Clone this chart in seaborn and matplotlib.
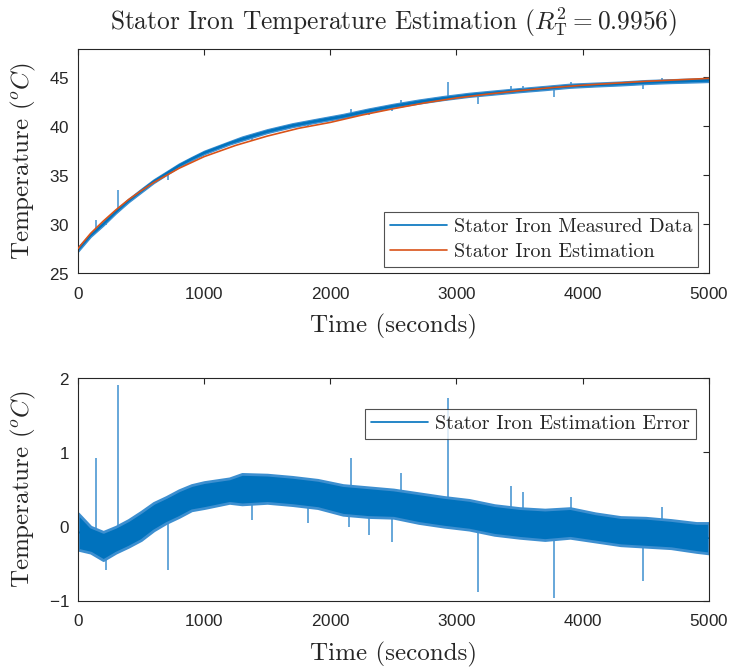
import numpy as np
import pandas as pd
import matplotlib
matplotlib.use("Agg")
import matplotlib.pyplot as plt
import seaborn as sns

# Estimated stator iron temperature (deg C)
est_time = [0, 100, 200, 300, 400, 500, 600, 800, 1000, 1250, 1500, 1750,
            2000, 2250, 2500, 2750, 3000, 3250, 3500, 3750, 4000, 4500, 5000]
est_temp = [27.5, 29.05, 30.3, 31.45, 32.5, 33.4, 34.25, 35.7, 36.9, 38.05,
            39.0, 39.8, 40.4, 41.15, 41.8, 42.4, 42.9, 43.3, 43.65, 43.95,
            44.2, 44.6, 44.9]

# Estimation error band (upper / lower edge of the noisy trace)
err_time = [0, 100, 200, 300, 400, 500, 600, 700, 800, 900, 1000, 1200, 1300,
            1500, 1700, 1900, 2100, 2300, 2500, 2700, 2900, 3100, 3300, 3500,
            3700, 3900, 4100, 4300, 4500, 4700, 4900, 5000]
err_hi = [0.18, 0.0, -0.07, 0.0, 0.09, 0.2, 0.32, 0.4, 0.49, 0.56, 0.6, 0.65,
          0.71, 0.7, 0.67, 0.63, 0.56, 0.53, 0.5, 0.45, 0.4, 0.36, 0.29, 0.25,
          0.23, 0.25, 0.18, 0.13, 0.12, 0.09, 0.05, 0.05]
err_lo = [-0.31, -0.35, -0.45, -0.35, -0.27, -0.18, -0.05, 0.05, 0.13, 0.22,
          0.25, 0.32, 0.3, 0.32, 0.29, 0.25, 0.16, 0.13, 0.12, 0.05, 0.0, -0.04,
          -0.11, -0.15, -0.18, -0.15, -0.2, -0.25, -0.27, -0.29, -0.34, -0.36]

# Isolated spikes in the error trace
spike_time = [140, 220, 314, 710, 1380, 1820, 2150, 2160, 2305, 2485, 2557,
              2930, 3170, 3430, 3525, 3770, 3910, 4480, 4630]
spike_err = [0.92, -0.58, 1.9, -0.58, 0.09, 0.05, 0.0, 0.92, -0.11, -0.2, 0.72,
             1.73, -0.88, 0.55, 0.47, -0.96, 0.4, -0.73, 0.26]

blue = "#0072BD"
fringe = "#3d8fd0"
orange = "#D95319"
cm_font = "cmr10"

sns.set_style("white")
plt.rcParams["font.family"] = ["Liberation Sans", "DejaVu Sans"]
plt.rcParams["mathtext.fontset"] = "cm"
plt.rcParams["axes.formatter.use_mathtext"] = True
plt.rcParams["axes.edgecolor"] = "#262626"
plt.rcParams["axes.linewidth"] = 0.8

# build frames
est = pd.DataFrame({"t": est_time, "T": est_temp})
err = pd.DataFrame({"t": err_time, "hi": err_hi, "lo": err_lo})
err["mid"] = (err["hi"] + err["lo"]) / 2
err["est"] = np.interp(err["t"], est["t"], est["T"])
spk = pd.DataFrame({"t": spike_time, "e": spike_err})
spk["base"] = np.interp(spk["t"], err["t"], err["mid"])
spk["est"] = np.interp(spk["t"], est["t"], est["T"])

fig = plt.figure(figsize=(7.37, 6.7), dpi=100)
ax1 = fig.add_axes([0.1058, 0.5925, 0.856, 0.3343])
ax2 = fig.add_axes([0.1058, 0.103, 0.856, 0.3328])

# Top panel: measured vs estimated
ax1.vlines(spk["t"], spk["est"] + spk["base"], spk["est"] + spk["e"],
           color=fringe, lw=1.1, zorder=1)
ax1.fill_between(err["t"], err["est"] + err["lo"], err["est"] + err["hi"],
                 facecolor=blue, edgecolor=fringe, lw=1.0, zorder=2)
sns.lineplot(x=err["t"], y=err["est"] + err["mid"], ax=ax1, color=blue, lw=1.2,
             label="Stator Iron Measured Data", zorder=2)
sns.lineplot(data=est, x="t", y="T", ax=ax1, color=orange, lw=1.2,
             label="Stator Iron Estimation", zorder=3)

# Bottom panel: error
ax2.vlines(spk["t"], spk["base"], spk["e"], color=fringe, lw=1.1, zorder=1)
ax2.fill_between(err["t"], err["lo"], err["hi"], facecolor=blue,
                 edgecolor=fringe, lw=2.0, zorder=2)
sns.lineplot(x=err["t"], y=err["mid"], ax=ax2, color=blue, lw=1.2,
             label="Stator Iron Estimation Error", zorder=2)

ax1.set_ylim(25, 47.9)
ax1.set_yticks([25, 30, 35, 40, 45])
ax2.set_ylim(-1, 2)
ax2.set_yticks([-1, 0, 1, 2])

for ax in (ax1, ax2):
    ax.set_xlim(0, 5000)
    ax.set_xticks([0, 1000, 2000, 3000, 4000, 5000])
    ax.tick_params(direction="in", top=True, right=True, length=4, width=0.8,
                   labelsize=12.3, colors="#262626", pad=9)
    ax.tick_params(axis="y", pad=6)
    ax.set_xlabel("Time (seconds)", fontfamily=cm_font, fontsize=18,
                  labelpad=9)
    ax.set_ylabel("Temperature ($^oC$)", fontfamily=cm_font, fontsize=18,
                  labelpad=8)

ax1.set_title(r"Stator Iron Temperature Estimation ($R^2_{\mathrm{T}} = 0.9956$)",
              fontfamily=cm_font, fontsize=18.3, pad=14)

leg1 = ax1.legend(loc="lower right", prop={"family": cm_font, "size": 14.5},
                  frameon=True, fancybox=False, edgecolor="#262626",
                  handlelength=2.8, handletextpad=0.35, borderpad=0.3,
                  labelspacing=0.35, borderaxespad=0,
                  bbox_to_anchor=(0.983, 0.027))
leg1.get_frame().set_linewidth(0.8)
leg2 = ax2.legend(loc="upper right", prop={"family": cm_font, "size": 14.5},
                  frameon=True, fancybox=False, edgecolor="#262626",
                  handlelength=2.8, handletextpad=0.35, borderpad=0.3,
                  borderaxespad=0, bbox_to_anchor=(0.979, 0.861))
leg2.get_frame().set_linewidth(0.8)

fig.savefig("out.png", dpi=100)
